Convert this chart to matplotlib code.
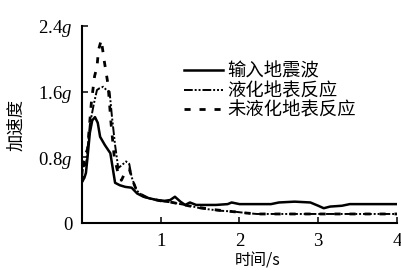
import matplotlib
matplotlib.use("Agg")
import matplotlib.pyplot as plt

plt.rcParams['font.family'] = ['Liberation Serif', 'Noto Sans CJK SC', 'DejaVu Sans']
plt.rcParams['mathtext.fontset'] = 'custom'
plt.rcParams['mathtext.it'] = 'Liberation Serif:italic'
plt.rcParams['mathtext.rm'] = 'Liberation Serif'

# Input earthquake wave (solid)
t_input = [0, 0.03, 0.05, 0.07, 0.10, 0.13, 0.165, 0.2, 0.23, 0.29, 0.36, 0.42, 0.48, 0.55,
           0.63, 0.70, 0.78, 0.86, 0.95, 1.05, 1.12, 1.18, 1.25, 1.31, 1.37, 1.45, 1.55,
           1.7, 1.85, 1.9, 2.0, 2.2, 2.4, 2.5, 2.7, 2.9, 3.0, 3.07, 3.15, 3.3, 3.4, 3.7, 4.0]
a_input = [0.50, 0.55, 0.61, 0.80, 1.10, 1.25, 1.29, 1.22, 1.05, 0.95, 0.85, 0.49, 0.46, 0.44,
           0.43, 0.36, 0.32, 0.30, 0.28, 0.27, 0.28, 0.32, 0.26, 0.22, 0.25, 0.22, 0.22,
           0.22, 0.23, 0.25, 0.23, 0.23, 0.23, 0.25, 0.26, 0.25, 0.21, 0.18, 0.20, 0.21, 0.23, 0.23, 0.23]

# Liquefied surface response (dash-dot)
t_liq = [0, 0.02, 0.05, 0.10, 0.15, 0.19, 0.22, 0.27, 0.31, 0.35, 0.38, 0.42, 0.46, 0.50,
         0.56, 0.60, 0.63, 0.69, 0.75, 0.85, 0.95, 1.05, 1.15, 1.25, 1.37, 1.50, 1.58,
         1.75, 1.92, 2.10, 2.22, 2.5, 3.0, 3.5, 4.0]
a_liq = [0.55, 0.75, 0.70, 1.20, 1.45, 1.62, 1.64, 1.66, 1.62, 1.60, 1.30, 0.95, 0.67, 0.70,
         0.75, 0.72, 0.56, 0.40, 0.35, 0.30, 0.28, 0.26, 0.25, 0.23, 0.21, 0.18, 0.17,
         0.15, 0.14, 0.12, 0.11, 0.11, 0.11, 0.11, 0.11]

# Non-liquefied surface response (dashed)
t_nonliq = [0, 0.03, 0.07, 0.12, 0.16, 0.19, 0.21, 0.245, 0.28, 0.30, 0.33, 0.37, 0.41,
            0.46, 0.50, 0.55, 0.60, 0.65, 0.70, 0.80, 0.90, 1.0, 1.1, 1.2, 1.3, 1.4, 1.55,
            1.7, 1.9, 2.1, 2.25, 2.5, 3.0, 3.5, 4.0]
a_nonliq = [0.50, 0.80, 0.90, 1.48, 1.79, 1.90, 2.11, 2.23, 1.99, 1.87, 1.69, 1.20, 0.80,
            0.60, 0.52, 0.62, 0.66, 0.50, 0.38, 0.32, 0.29, 0.27, 0.26, 0.24, 0.22, 0.20, 0.18,
            0.16, 0.14, 0.12, 0.11, 0.11, 0.11, 0.11, 0.11]

labels = ['输入地震波', '液化地表反应', '未液化地表反应']
ytick_vals = [0, 0.8, 1.6, 2.4]
ytick_labels = ['0', r'0.8$g$', r'1.6$g$', r'2.4$g$']
xtick_vals = [1, 2, 3, 4]

cjk = ['Noto Sans CJK SC', 'DejaVu Sans']

fig = plt.figure(figsize=(4.02, 2.70), dpi=100)
ax = fig.add_axes([82/402, 1-223/270, 315/402, 197/270])

ax.plot(t_input, a_input, color='black', lw=1.8, ls='-', label=labels[0])
ax.plot(t_liq, a_liq, color='black', lw=1.4, ls=(0, (4.5, 1.0, 1, 1.0, 1, 1.0)), label=labels[1])
ax.plot(t_nonliq, a_nonliq, color='black', lw=2.0, ls=(0, (2.2, 3.2)), label=labels[2])

ax.set_xlim(0, 4)
ax.set_ylim(0, 2.4)
ax.set_xticks(xtick_vals)
ax.set_xticklabels([str(v) for v in xtick_vals], fontsize=13.5)
ax.set_yticks(ytick_vals)
ax.set_yticklabels(ytick_labels, fontsize=13.5)
ax.tick_params(direction='in', length=4.5, width=1.1, pad=7)
ax.tick_params(axis='x', pad=7)
for s in ['top', 'right']:
    ax.spines[s].set_visible(False)
for s in ['left', 'bottom']:
    ax.spines[s].set_linewidth(1.5)

ax.set_ylabel('加速度', family=cjk, fontsize=12.5)
ax.yaxis.set_label_coords(-0.18, 0.5)
ax.set_xlabel('时间/s', family=cjk, fontsize=11.5, va='top')
ax.xaxis.set_label_coords(0.556, -0.152)

leg = ax.legend(loc='upper left', bbox_to_anchor=(175/402, 1-53/270),
                bbox_transform=fig.transFigure, frameon=False, borderpad=0,
                handlelength=2.1, handletextpad=0.25, labelspacing=0.1,
                prop={'family': cjk, 'size': 13.2})

fig.savefig('out.png', dpi=100)
